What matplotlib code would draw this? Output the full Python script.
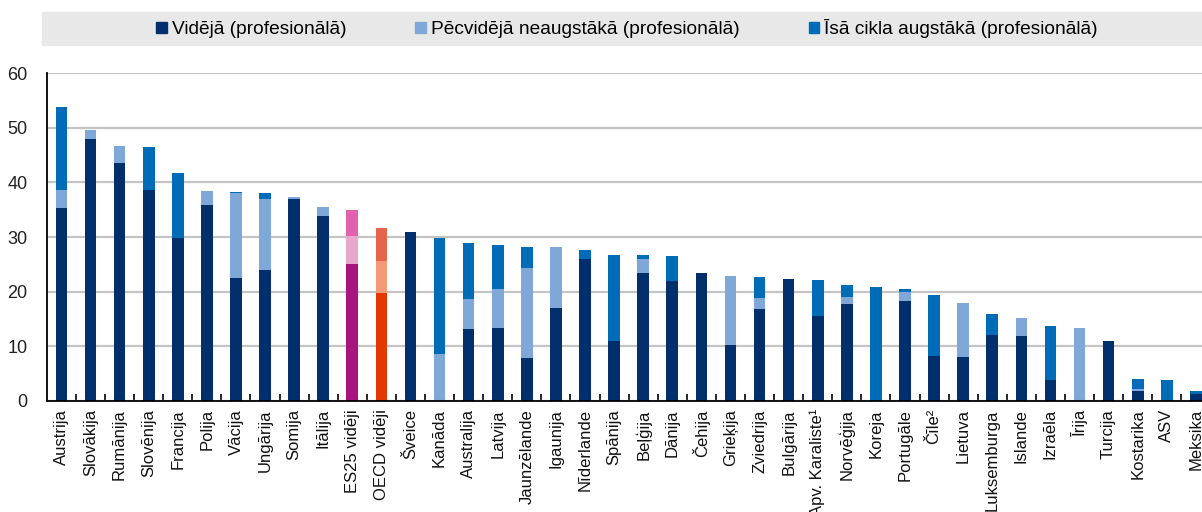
import numpy as np
import matplotlib.pyplot as plt
from matplotlib.patches import Rectangle, Patch

plt.rcParams['font.family'] = ['Liberation Sans', 'DejaVu Sans']

countries = ['Austrija', 'Slovākija', 'Rumānija', 'Slovēnija', 'Francija', 'Polija', 'Vācija',
             'Ungārija', 'Somija', 'Itālija', 'ES25 vidēji', 'OECD vidēji', 'Šveice', 'Kanāda',
             'Australija', 'Latvija', 'Jaunzēlande', 'Igaunija', 'Nīderlande', 'Spānija', 'Beļģija',
             'Dānija', 'Čehija', 'Grieķija', 'Zviedrija', 'Bulgārija', 'Apv. Karaliste¹',
             'Norvēģija', 'Koreja', 'Portugāle', 'Čīle²', 'Lietuva', 'Luksemburga', 'Islande',
             'Izraēla', 'Īrija', 'Turcija', 'Kostarika', 'ASV', 'Meksika']

# cumulative tops
secondary = [35.3, 48.0, 43.6, 38.7, 29.8, 35.9, 22.5, 24.0, 36.9, 33.8, 25.0, 19.8, 31.0, 0.0,
             13.1, 13.3, 7.8, 17.0, 26.0, 11.0, 23.5, 22.0, 23.5, 10.3, 16.9, 22.3, 15.6,
             17.8, 0.0, 18.2, 8.2, 8.0, 12.0, 11.8, 3.9, 0.0, 10.9, 1.8, 0.0, 1.3]
post_top = [38.6, 49.6, 46.6, 38.7, 29.8, 38.5, 38.0, 36.9, 37.4, 35.5, 30.2, 25.6, 31.0, 8.5,
            18.7, 20.5, 24.3, 28.2, 26.0, 11.0, 26.0, 22.0, 23.5, 22.8, 18.9, 22.3, 15.6,
            19.0, 0.0, 19.9, 8.2, 18.0, 12.0, 15.2, 3.9, 13.3, 10.9, 2.2, 0.0, 1.3]
total = [53.8, 49.6, 46.6, 46.4, 41.7, 38.5, 38.3, 38.0, 37.4, 35.5, 34.9, 31.7, 31.0, 29.9,
         28.9, 28.5, 28.2, 28.2, 27.6, 26.8, 26.8, 26.5, 23.5, 22.8, 22.6, 22.3, 22.1,
         21.2, 20.8, 20.5, 19.3, 18.0, 15.9, 15.2, 13.7, 13.3, 10.9, 4.0, 3.9, 1.9]

labels = ['Vidējā (profesionālā)', 'Pēcvidējā neaugstākā (profesionālā)',
          'Īsā cikla augstākā (profesionālā)']

c_dark, c_light, c_mid = '#002F6C', '#7FA8D9', '#006BB6'
special = {'ES25 vidēji': ('#A8157E', '#E9A7CB', '#E362B0'),
           'OECD vidēji': ('#E03A00', '#F59A78', '#E4654A')}

sec = np.array(secondary)
post = np.array(post_top) - sec
short = np.array(total) - np.array(post_top)
x = np.arange(len(countries))

cols = [special.get(c, (c_dark, c_light, c_mid)) for c in countries]

fig = plt.figure(figsize=(12.02, 5.12), dpi=100)
ax = fig.add_axes([0.039, 0.217, 0.968, 0.64])

w = 0.4
ax.bar(x, sec, w, color=[c[0] for c in cols], zorder=3)
ax.bar(x, post, w, bottom=sec, color=[c[1] for c in cols], zorder=3)
ax.bar(x, short, w, bottom=sec + post, color=[c[2] for c in cols], zorder=3)

ax.set_xlim(-0.5, len(countries) - 0.5)
ax.set_ylim(0, 60)
ax.set_yticks(range(0, 61, 10))
ax.yaxis.grid(True, color='#C4C4C4', lw=1.6, zorder=0)
ax.tick_params(axis='y', length=0, pad=14, labelsize=13, colors='#222222')
ax.set_xticks(x)
ax.set_xticklabels(countries, rotation=90, fontsize=12, color='#111111')
ax.tick_params(axis='x', which='major', length=0, pad=6)
ax.set_xticks(x[:-1] + 0.5, minor=True)
ax.tick_params(axis='x', which='minor', direction='in', length=5, width=1.2, color='black')
for s in ['top', 'right']:
    ax.spines[s].set_visible(False)
for s in ['left', 'bottom']:
    ax.spines[s].set_color('black')
    ax.spines[s].set_linewidth(1.3)
    ax.spines[s].set_zorder(4)

# legend band
fig.patches.append(Rectangle((0.035, 0.912), 0.97, 0.065, transform=fig.transFigure,
                             color='#E8E8E8', zorder=0))
handles = [Patch(color=c) for c in (c_dark, c_light, c_mid)]
fig.legend(handles, labels, loc='center', bbox_to_anchor=(0.5216, 0.944), ncol=3,
           frameon=False, fontsize=13.8, handlelength=0.55, handleheight=0.55,
           handletextpad=0.25, columnspacing=3.6)

fig.savefig('out.png', dpi=100)
